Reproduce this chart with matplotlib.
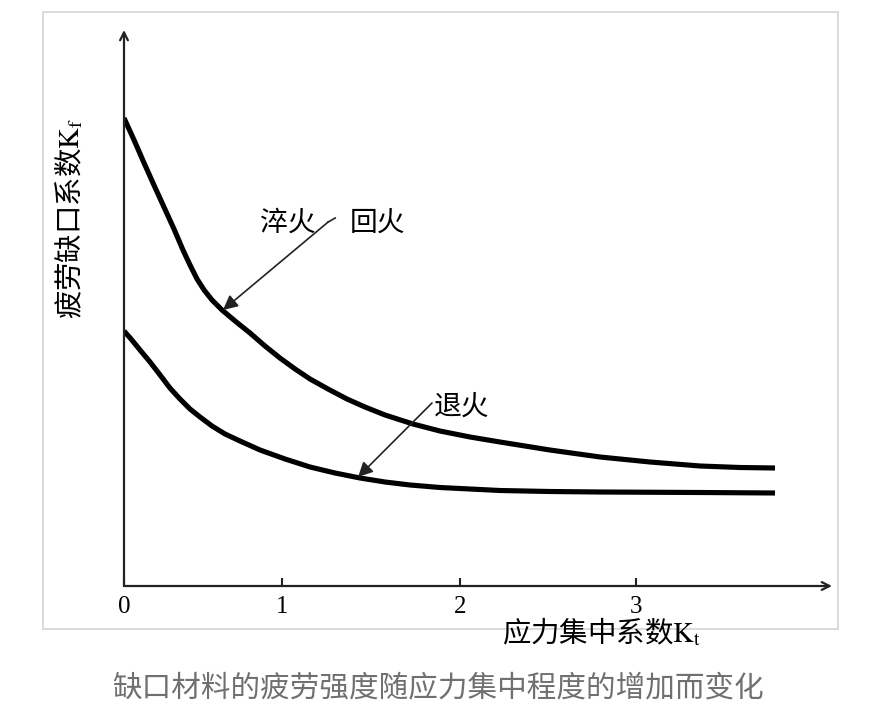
import matplotlib
matplotlib.use('Agg')
import matplotlib.pyplot as plt
from matplotlib.patches import Rectangle

plt.rcParams['font.family'] = ['Noto Sans CJK SC', 'DejaVu Sans']
plt.rcParams['mathtext.fontset'] = 'stix'

# stress concentration factor Kt (x) vs notch fatigue factor Kf (y)
quench_x = [0, 0.057, 0.114, 0.170, 0.227, 0.284, 0.335, 0.375, 0.415, 0.455, 0.500,
            0.557, 0.631, 0.716, 0.801, 0.886, 0.972, 1.057, 1.159, 1.267, 1.369,
            1.483, 1.642, 1.795, 1.966, 2.136, 2.420, 2.705, 2.989, 3.273, 3.500, 3.699]
quench_y = [4.68, 4.46, 4.23, 4.01, 3.79, 3.57, 3.36, 3.21, 3.07, 2.96, 2.86,
            2.76, 2.65, 2.53, 2.40, 2.28, 2.17, 2.07, 1.97, 1.87, 1.79,
            1.71, 1.62, 1.55, 1.49, 1.44, 1.36, 1.29, 1.24, 1.20, 1.185, 1.18]
anneal_x = [0, 0.040, 0.091, 0.148, 0.205, 0.261, 0.318, 0.375, 0.432, 0.500, 0.574,
            0.659, 0.773, 0.915, 1.057, 1.199, 1.341, 1.483, 1.625, 1.795, 1.966,
            2.136, 2.420, 2.705, 3.273, 3.699]
anneal_y = [2.55, 2.47, 2.36, 2.24, 2.11, 1.98, 1.87, 1.77, 1.69, 1.60, 1.52,
            1.45, 1.36, 1.27, 1.19, 1.13, 1.08, 1.04, 1.01, 0.985, 0.97,
            0.955, 0.945, 0.94, 0.935, 0.93]

tick_pos = [0, 0.898, 1.909, 2.909]
tick_labels = ['0', '1', '2', '3']

xlabel = '应力集中系数$\\mathrm{K_t}$'
ylabel = '疲劳缺口系数$\\mathrm{K_f}$'
caption = '缺口材料的疲劳强度随应力集中程度的增加而变化'

fig = plt.figure(figsize=(8.86, 7.22), dpi=100)
ax = fig.add_axes([124/886, 1 - 586/722, (832-124)/886, (586-30)/722])
ax.set_xlim(0, (832-124)/176)
ax.set_ylim(0, (586-30)/100)

# curves
for xs, ys in [(quench_x, quench_y), (anneal_x, anneal_y)]:
    ax.plot(xs, ys, color='black', lw=3.7, solid_capstyle='butt',
            solid_joinstyle='round')

# axes with arrow heads
for s in ax.spines.values():
    s.set_visible(False)
ax.annotate('', xy=(1, 0), xytext=(0, 0), xycoords='axes fraction',
            arrowprops=dict(arrowstyle='->', lw=1.6, color='#222222',
                            mutation_scale=14, shrinkA=0, shrinkB=0))
ax.annotate('', xy=(0, 1), xytext=(0, 0), xycoords='axes fraction',
            arrowprops=dict(arrowstyle='->', lw=1.6, color='#222222',
                            mutation_scale=14, shrinkA=0, shrinkB=0))
ax.set_xticks(tick_pos)
ax.set_xticklabels(tick_labels, fontsize=18, family='Liberation Serif')
ax.tick_params(axis='x', direction='in', length=6, width=1.5, pad=7, color='#222222')
ax.set_yticks([])

# annotations
ax.plot([1.16, 1.20], [3.64, 3.68], color='#222222', lw=1.2)
ax.annotate('', xy=(0.5625, 2.76), xytext=(1.16, 3.64),
            arrowprops=dict(arrowstyle='-|>', lw=1.2, color='#222222',
                            mutation_scale=22, shrinkA=0, shrinkB=0))
ax.annotate('', xy=(1.33, 1.09), xytext=(1.75, 1.83),
            arrowprops=dict(arrowstyle='-|>', lw=1.2, color='#222222',
                            mutation_scale=22, shrinkA=0, shrinkB=0))
ax.text(0.932, 3.63, '淬火', fontsize=20, ha='center', va='center')
ax.text(1.4375, 3.63, '回火', fontsize=20, ha='center', va='center')
ax.text(1.92, 1.79, '退火', fontsize=20, ha='center', va='center')

# labels
fig.text(602/886, 1 - 633/722, xlabel, fontsize=20.5, ha='center', va='center')
fig.text(70/886, 1 - 218/722, ylabel, fontsize=20.5, ha='center', va='center',
         rotation=90)
fig.text(438/886, 1 - 688/722, caption, fontsize=21.3, ha='center', va='center',
         color='#707070')

# light frame around the chart
fig.patches.append(Rectangle((43/886, 1 - 629/722), (838-43)/886, (629-12)/722,
                             transform=fig.transFigure, fill=False,
                             edgecolor='#d4d4d4', lw=1.2))

fig.savefig('out.png', dpi=100)
